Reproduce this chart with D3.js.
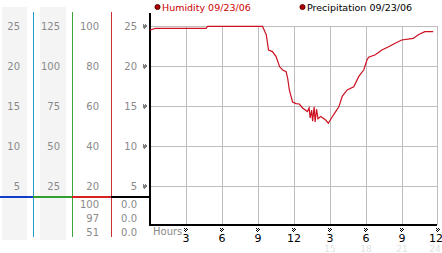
<!DOCTYPE html>
<html><head><meta charset="utf-8">
<script src="https://cdn.jsdelivr.net/npm/d3@7"></script>
<style>body{margin:0;background:#fff}svg{display:block}text{font-family:"DejaVu Sans",Verdana,sans-serif}</style>
</head><body>
<script>
// ---- data ----
const hours = [0,0.45,4.67,4.8,9.38,9.69,9.88,10.2,10.5,10.8,11.06,11.34,11.47,11.61,11.88,12.17,12.44,12.71,13.12,13.26,13.35,13.47,13.55,13.68,13.76,13.88,14.0,14.23,14.64,14.86,15.19,15.47,15.74,16.02,16.43,16.98,17.4,17.81,18.08,18.22,18.78,19.32,19.88,20.43,20.98,21.94,22.36,22.9,23.6];
const humidity = [24.5,24.7,24.7,24.95,24.95,23.9,22.0,21.8,21.2,19.9,19.5,19.3,18.5,17.0,15.5,15.3,15.25,14.75,14.3,14.75,13.5,14.5,13.1,14.9,13.0,14.6,13.4,13.7,13.25,12.85,13.66,14.3,14.9,16.2,17.0,17.4,18.7,19.5,20.75,21.1,21.4,22.0,22.4,22.85,23.25,23.45,23.9,24.3,24.3];
const yTicks = [25,20,15,10,5];
const col1Labels = ["25","20","15","10","5"];
const col2Labels = ["125","100","75","50","25"];
const col3Labels = ["100","80","60","40","20"];
const col4Labels = ["25","20","15","10","5"];
const col3Extra = ["100","97","51"];
const col4Extra = ["0.0","0.0","0.0"];
const xTickHours = [3,6,9,12,15,18,21,24];
const xTickLabels = ["3","6","9","12","3","6","9","12"];
const xFaintHours = [15,18,21,24];
const xFaintLabels = ["15","18","21","24"];
const legendItems = [{name:"Humidity 09/23/06", color:"#cc0000"},{name:"Precipitation 09/23/06", color:"#000"}];

// ---- drawing ----
const W=442,H=253;
const svg=d3.select("body").append("svg").attr("width",W).attr("height",H);
const x=d3.scaleLinear().domain([0,24]).range([150,438]);
const y=d3.scaleLinear().domain([0,25]).range([226,26]);
const plotRight=437;

// left panel backgrounds
[[2,27],[40,66]].forEach(([a,b])=>svg.append("rect").attr("x",a).attr("y",7).attr("width",b-a).attr("height",233).attr("fill","#f4f4f4"));

// vertical coloured separators
[[33,"#2a9bc8"],[72,"#3aa53a"],[111,"#c83030"]].forEach(([px,c])=>svg.append("line").attr("x1",px+0.5).attr("x2",px+0.5).attr("y1",12).attr("y2",237).attr("stroke",c).attr("stroke-width",1));

// scale labels
const cols=[{labels:col1Labels,right:20},{labels:col2Labels,right:60},{labels:col3Labels,right:99},{labels:col4Labels,right:137}];
cols.forEach(c=>{
  svg.append("g").selectAll("text").data(yTicks).join("text")
    .attr("x",c.right).attr("y",d=>y(d)+3.5).attr("text-anchor","end")
    .attr("font-size",10).attr("fill","#8a8a8a").text((d,i)=>c.labels[i]);
});
const extraY=[204,218,232.5];
[[col3Extra,99],[col4Extra,137]].forEach(([labs,r])=>{
  svg.append("g").selectAll("text").data(labs).join("text")
    .attr("x",r).attr("y",(d,i)=>extraY[i]+3.5).attr("text-anchor","end")
    .attr("font-size",10).attr("fill","#8a8a8a").text(d=>d);
});

// coloured horizontal divider
[[0,33,"#1040c8"],[33,72,"#30a030"],[72,111,"#d82020"],[111,150,"#000"]].forEach(([a,b,c])=>svg.append("line").attr("x1",a).attr("x2",b).attr("y1",197).attr("y2",197).attr("stroke",c).attr("stroke-width",2));

// grid
svg.append("g").selectAll("line").data(yTicks).join("line")
  .attr("x1",150).attr("x2",plotRight).attr("y1",d=>y(d)+0.5).attr("y2",d=>y(d)+0.5).attr("stroke","#bdbdbd");
svg.append("g").selectAll("line").data(xTickHours).join("line")
  .attr("x1",d=>Math.min(Math.round(x(d)),plotRight)+0.5).attr("x2",d=>Math.min(Math.round(x(d)),plotRight)+0.5)
  .attr("y1",26).attr("y2",225).attr("stroke","#bdbdbd");

// axes lines
svg.append("line").attr("x1",150).attr("x2",150).attr("y1",13).attr("y2",226).attr("stroke","#000").attr("stroke-width",2);
svg.append("line").attr("x1",149).attr("x2",plotRight).attr("y1",225).attr("y2",225).attr("stroke","#000").attr("stroke-width",2);

// tick glyph: small checker
function glyph(g,cx,cy){
  [[-1.5,-1.5],[0.5,-1.5],[-0.5,-0.5],[1.5,-0.5],[-1.5,0.5],[0.5,0.5],[-0.5,1.5]].forEach(([dx,dy])=>g.append("rect").attr("x",cx+dx-0.5).attr("y",cy+dy-0.5).attr("width",1).attr("height",1).attr("fill","#000"));
}
const gl=svg.append("g");
yTicks.forEach(v=>glyph(gl,145,Math.round(y(v))+0.5));
xTickHours.forEach(h=>glyph(gl,Math.round(x(h)),230));

// x labels
svg.append("text").attr("x",153).attr("y",235).attr("font-size",10).attr("fill","#8a8a8a").text("Hours");
svg.append("g").selectAll("text").data(xTickHours).join("text")
  .attr("x",d=>Math.min(x(d),436)).attr("y",242).attr("text-anchor","middle")
  .attr("font-size",11).attr("fill","#000").text((d,i)=>xTickLabels[i]);
svg.append("g").selectAll("text").data(xFaintHours).join("text")
  .attr("x",d=>Math.min(x(d),435)).attr("y",251.5).attr("text-anchor","middle")
  .attr("font-size",9).attr("fill","#e2e2e2").text((d,i)=>xFaintLabels[i]);

// legend
const lg=svg.append("g").selectAll("g").data(legendItems).join("g")
  .attr("transform",(d,i)=>`translate(${i?302.5:157.5},7)`);
lg.append("circle").attr("r",2.6).attr("fill","#b00000").attr("stroke","#400").attr("stroke-width",0.8);
lg.append("text").attr("x",4.5).attr("y",3.5).attr("font-size",9.5).attr("fill",d=>d.color).text(d=>d.name);

// data line
const line=d3.line().x((d,i)=>x(hours[i])).y(d=>y(d));
svg.append("path").datum(humidity).attr("d",line).attr("fill","none").attr("stroke","#cc1020").attr("stroke-width",1.2);
</script>
</body></html>
